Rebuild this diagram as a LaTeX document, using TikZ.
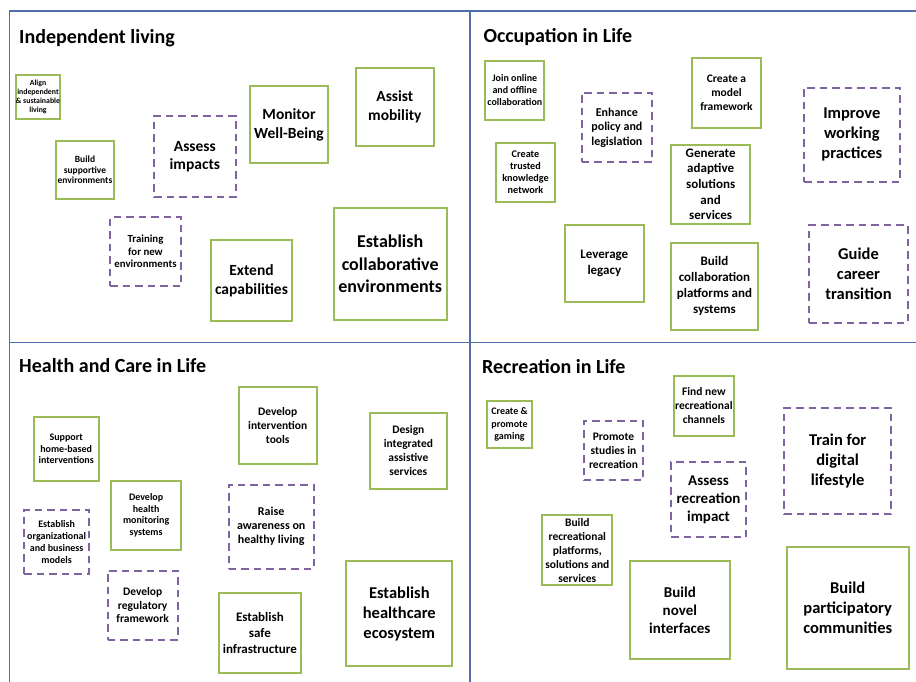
\documentclass[tikz,border=0pt]{standalone}
\usepackage{fontspec}
\setmainfont{Carlito}
\definecolor{boxgreen}{HTML}{9BBB59}
\definecolor{boxpurple}{HTML}{8064A2}
\definecolor{divblue}{HTML}{4F6FA5}
\newcommand\fs[2]{\fontsize{#1pt}{#2pt}\selectfont\bfseries}
\tikzset{
  gbox/.style={draw=boxgreen, line width=2pt, inner sep=0pt, align=center},
  pbox/.style={draw=boxpurple, line width=2pt, dash pattern=on 7.5pt off 5pt, inner sep=0pt, align=center},
  ttl/.style={anchor=base west, inner sep=0pt, font=\fs{20}{24}},
  divider/.style={draw=divblue, line width=1.4pt}
}
\begin{document}
\begin{tikzpicture}[x=1pt,y=-1pt]
\useasboundingbox (0,0) rectangle (916,682);
% dividers
\draw[divider] (9.5,682) -- (9.5,11) -- (916,11);
\draw[divider] (470,11) -- (470,682);
\draw[divider] (9.5,342.5) -- (916,342.5);
% titles
\node[ttl] (t1) at (19,43.3) {Independent living};
\node[ttl] (t2) at (483.3,42.7) {Occupation in Life};
\node[ttl] (t3) at (19,372.3) {Health and Care in Life};
\node[ttl] (t4) at (482,373.3) {Recreation in Life};
% Independent living
\node[gbox, minimum width=44.6pt, minimum height=43.7pt, font=\fs{7.8}{9}] (a1) at (38,97.2) {Align\\independent\\\& sustainable\\living};
\node[gbox, minimum width=58pt, minimum height=58pt, font=\fs{9.5}{10.5}] (a2) at (85,170) {Build\\supportive\\environments};
\node[pbox, minimum width=81.7pt, minimum height=81pt, font=\fs{15.5}{18}] (a3) at (194.85,156.5) {Assess\\impacts};
\node[gbox, minimum width=78pt, minimum height=77pt, font=\fs{15.5}{19}] (a4) at (289,124.5) {Monitor\\Well-Being};
\node[gbox, minimum width=78.3pt, minimum height=77.7pt, font=\fs{15.5}{19}] (a5) at (394.85,106.85) {Assist\\mobility};
\node[pbox, minimum width=71pt, minimum height=69pt, font=\fs{10.8}{12.7}] (a6) at (145.5,251.5) {Training\\for new\\environments};
\node[gbox, minimum width=81pt, minimum height=81pt, font=\fs{15.5}{19}] (a7) at (251.5,280.5) {Extend\\capabilities};
\node[gbox, minimum width=113pt, minimum height=112pt, font=\fs{18}{22.3}] (a8) at (390.2,264) {Establish\\collaborative\\environments};
% Occupation in Life
\node[gbox, minimum width=59pt, minimum height=59pt, font=\fs{10}{12}] (b1) at (514.8,90.2) {Join online\\and offline\\collaboration};
\node[gbox, minimum width=59.6pt, minimum height=59.3pt, font=\fs{10.2}{12}] (b2) at (525.5,172.35) {Create\\trusted\\knowledge\\network};
\node[pbox, minimum width=70.3pt, minimum height=69.3pt, font=\fs{12}{14.5}] (b3) at (616.85,127.35) {Enhance\\policy and\\legislation};
\node[gbox, minimum width=69.6pt, minimum height=70pt, font=\fs{11.5}{14}] (b4) at (726.5,92.7) {Create a\\model\\framework};
\node[gbox, minimum width=79.3pt, minimum height=78.7pt, font=\fs{13}{15.7}] (b5) at (710.65,184.35) {Generate\\adaptive\\solutions\\and\\services};
\node[pbox, minimum width=95.7pt, minimum height=94.3pt, font=\fs{16.5}{20}] (b6) at (851.85,134.85) {Improve\\working\\practices};
\node[gbox, minimum width=79.3pt, minimum height=77.6pt, font=\fs{13}{15.7}] (b7) at (604.35,263.5) {Leverage\\legacy};
\node[gbox, minimum width=87.6pt, minimum height=86.7pt, font=\fs{13}{16}] (b8) at (714.5,286.35) {Build\\collaboration\\platforms and\\systems};
\node[pbox, minimum width=98.4pt, minimum height=97.7pt, font=\fs{16.5}{20.3}] (b9) at (858.5,273.85) {Guide\\career\\transition};
% Health and Care in Life
\node[gbox, minimum width=65pt, minimum height=63.7pt, font=\fs{10}{11.5}] (c1) at (66.2,449.15) {Support\\home-based\\interventions};
\node[gbox, minimum width=78pt, minimum height=76.4pt, font=\fs{11.5}{14}] (c2) at (277.7,425.5) {Develop\\intervention\\tools};
\node[gbox, minimum width=76.7pt, minimum height=76pt, font=\fs{11.5}{14}] (c3) at (408.35,451) {Design\\integrated\\assistive\\services};
\node[gbox, minimum width=69.7pt, minimum height=69pt, font=\fs{10}{11.6}] (c4) at (146.15,515.2) {Develop\\health\\monitoring\\systems};
\node[pbox, minimum width=64.7pt, minimum height=63.7pt, font=\fs{10}{12}] (c5) at (56.65,541.85) {Establish\\organizational\\and business\\models};
\node[pbox, minimum width=85pt, minimum height=84pt, font=\fs{12}{14}] (c6) at (271.2,526.7) {Raise\\awareness on\\healthy living};
\node[pbox, minimum width=70pt, minimum height=69pt, font=\fs{11.5}{13.5}] (c7) at (142.7,605.2) {Develop\\regulatory\\framework};
\node[gbox, minimum width=81.7pt, minimum height=80pt, font=\fs{13}{16}] (c8) at (259.85,632.7) {Establish\\safe\\infrastructure};
\node[gbox, minimum width=106pt, minimum height=105pt, font=\fs{16.5}{20}] (c9) at (399.3,613.8) {Establish\\healthcare\\ecosystem};
% Recreation in Life
\node[gbox, minimum width=45.6pt, minimum height=46.4pt, font=\fs{10}{12.3}] (d1) at (509.5,424.5) {Create \&\\promote\\gaming};
\node[pbox, minimum width=59.6pt, minimum height=59.3pt, font=\fs{11.5}{14}] (d2) at (613.5,450.65) {Promote\\studies in\\recreation};
\node[gbox, minimum width=59.7pt, minimum height=59.4pt, font=\fs{11.5}{14}] (d3) at (703.85,406) {Find new\\recreational\\channels};
\node[pbox, minimum width=75pt, minimum height=75pt, font=\fs{15}{18}] (d4) at (708.5,499.8) {Assess\\recreation\\impact};
\node[pbox, minimum width=106.7pt, minimum height=106pt, font=\fs{16.5}{20}] (d5) at (837.65,461.3) {Train for\\digital\\lifestyle};
\node[gbox, minimum width=70pt, minimum height=70pt, font=\fs{11.5}{14}] (d6) at (577.3,550.3) {Build\\recreational\\platforms,\\solutions and\\services};
\node[gbox, minimum width=99.7pt, minimum height=98.6pt, font=\fs{15}{18}] (d7) at (679.85,610) {Build\\novel\\interfaces};
\node[gbox, minimum width=122pt, minimum height=121.4pt, font=\fs{16.5}{20}] (d8) at (847.7,608) {Build\\participatory\\communities};
\end{tikzpicture}
\end{document}
